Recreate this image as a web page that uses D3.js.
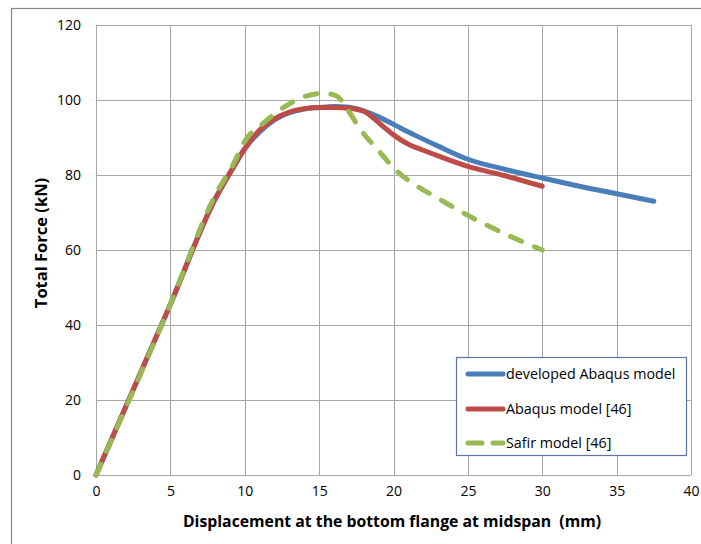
<!DOCTYPE html>
<html>
<head>
<meta charset="utf-8">
<script src="https://cdn.jsdelivr.net/npm/d3@7"></script>
<style>
  html, body { margin: 0; padding: 0; background: #fff; }
  svg { display: block; }
  text { font-family: "Open Sans", "Noto Sans", sans-serif; fill: #000; white-space: pre; }
</style>
</head>
<body>
<svg id="chart" width="701" height="544"></svg>
<script>
// Load–displacement curves (displacement in mm, total force in kN)
const developedAbaqus = [
  [0, 0], [5, 45.5], [8, 73.5], [9, 80.5], [10, 87], [11, 91.5], [12, 94.7],
  [13, 96.6], [14, 97.6], [15, 98], [16, 98.3], [17, 98.1], [18, 97.1],
  [19, 95.5], [20, 93.5], [21.5, 90.5], [23, 87.7], [25, 84.2], [27.5, 81.5],
  [30, 79.2], [32.5, 77], [35, 75], [37.5, 73]
];
const abaqus46 = [
  [0, 0], [5, 45.5], [8, 73.5], [9, 80.5], [10, 87], [11, 92], [12, 95],
  [13, 96.8], [14, 97.7], [15, 98], [16, 98], [17, 97.8], [18, 97],
  [18.7, 95], [19.5, 92.3], [20, 90.7], [21, 88.2], [22, 86.6], [23, 85.1],
  [25, 82.3], [27.5, 79.8], [30, 77]
];
const safir46 = [
  [0, 0], [5, 45.5], [8, 74.5], [9.25, 83], [10, 89], [11.3, 94], [12.6, 98],
  [14, 100.9], [15.3, 101.8], [16.2, 101], [16.9, 97.5], [17.8, 92],
  [19, 86.5], [20.1, 81.5], [21.6, 77], [22.9, 74], [25.1, 69],
  [28.1, 63.2], [30, 60]
];

const seriesNames = ["developed Abaqus model", "Abaqus model [46]", "Safir model [46]"];
const seriesColors = ["#4a7ebb", "#be4b48", "#98b954"];
const xTicks = [0, 5, 10, 15, 20, 25, 30, 35, 40];
const yTicks = [0, 20, 40, 60, 80, 100, 120];
const xTitle = "Displacement at the bottom flange at midspan  (mm)";
const yTitle = "Total Force (kN)";

const svg = d3.select("#chart");
const plot = { left: 96, right: 691, top: 25, bottom: 475 };

const x = d3.scaleLinear().domain([0, 40]).range([plot.left, plot.right]);
const y = d3.scaleLinear().domain([0, 120]).range([plot.bottom, plot.top]);

// outer chart frame
svg.append("rect")
  .attr("x", 11.5).attr("y", 8.5)
  .attr("width", 800).attr("height", 800)
  .attr("fill", "none").attr("stroke", "#868686").attr("stroke-width", 1.2);

// gridlines
const grid = svg.append("g");
grid.selectAll("line.v").data(xTicks).join("line")
  .attr("x1", d => Math.round(x(d)) + 0.5).attr("x2", d => Math.round(x(d)) + 0.5)
  .attr("y1", plot.top).attr("y2", plot.bottom)
  .attr("stroke", "#a6a6a6").attr("stroke-width", 1);
grid.selectAll("line.h").data(yTicks).join("line")
  .attr("y1", d => Math.round(y(d)) + 0.5).attr("y2", d => Math.round(y(d)) + 0.5)
  .attr("x1", plot.left).attr("x2", plot.right)
  .attr("stroke", "#a6a6a6").attr("stroke-width", 1);

// axes (tick labels only; lines come from the grid)
const xAxis = d3.axisBottom(x).tickValues(xTicks).tickSize(0).tickPadding(11);
const yAxis = d3.axisLeft(y).tickValues(yTicks).tickSize(0).tickPadding(15);
const gx = svg.append("g").attr("transform", `translate(0,${plot.bottom})`).call(xAxis);
const gy = svg.append("g").attr("transform", `translate(${plot.left},0)`).call(yAxis);
[gx, gy].forEach(g => {
  g.select(".domain").remove();
  g.selectAll("text").style("font-size", "14px").style("font-family", '"Open Sans", sans-serif');
});

// axis titles
svg.append("text")
  .attr("x", 392).attr("y", 527)
  .attr("text-anchor", "middle")
  .style("font-size", "15.8px").style("font-weight", "bold")
  .text(xTitle);
svg.append("text")
  .attr("transform", "translate(47,243) rotate(-90)")
  .attr("text-anchor", "middle")
  .style("font-size", "16.5px").style("font-weight", "bold")
  .text(yTitle);

// curves
const line = d3.line().x(d => x(d[0])).y(d => y(d[1])).curve(d3.curveMonotoneX);
const allSeries = [developedAbaqus, abaqus46, safir46];
const dash = [null, null, "12,14"];
allSeries.forEach((data, i) => {
  svg.append("path")
    .datum(data)
    .attr("d", line)
    .attr("fill", "none")
    .attr("stroke", seriesColors[i])
    .attr("stroke-width", 5)
    .attr("stroke-linecap", "round")
    .attr("stroke-linejoin", "round")
    .attr("stroke-dasharray", dash[i]);
});

// legend
const legend = svg.append("g");
legend.append("rect")
  .attr("x", 456.5).attr("y", 357.5).attr("width", 230).attr("height", 98)
  .attr("fill", "#fff").attr("stroke", "#5b76a6").attr("stroke-width", 1.2);
const rowY = [374, 409, 443];
seriesNames.forEach((name, i) => {
  legend.append("line")
    .attr("x1", 468).attr("x2", 503)
    .attr("y1", rowY[i]).attr("y2", rowY[i])
    .attr("stroke", seriesColors[i]).attr("stroke-width", 5)
    .attr("stroke-linecap", "round")
    .attr("stroke-dasharray", dash[i] ? "14,11" : null);
  legend.append("text")
    .attr("x", 506).attr("y", rowY[i]).attr("dy", "0.35em")
    .style("font-size", "14.3px")
    .text(name);
});
</script>
</body>
</html>
